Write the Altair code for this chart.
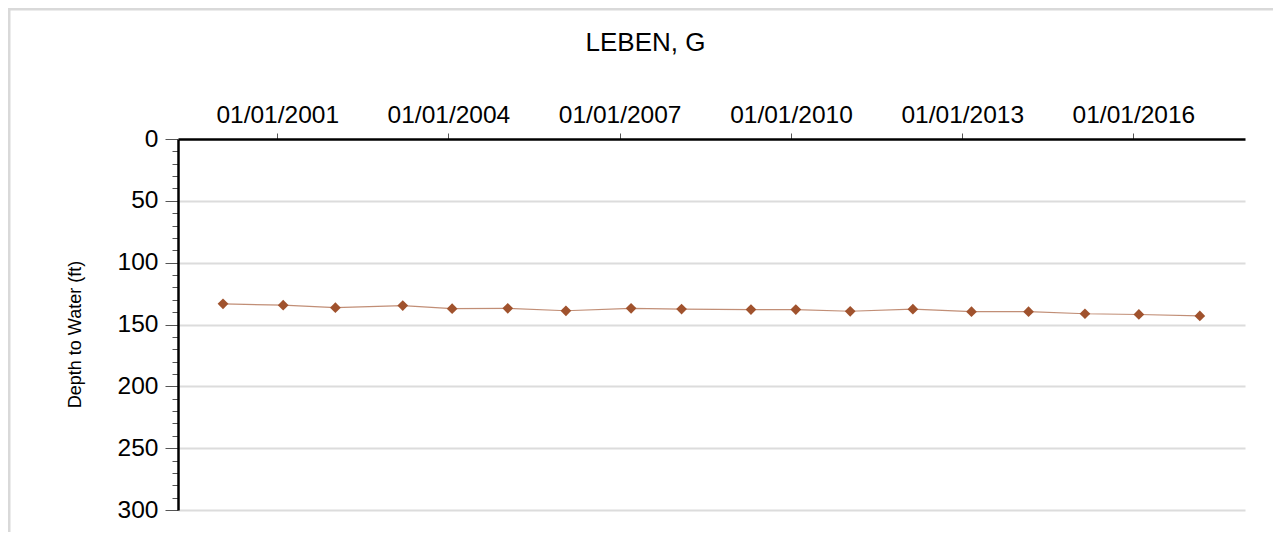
import altair as alt
import pandas as pd

# ---- data ----
dates = ["2000-01-20", "2001-02-08", "2002-01-08", "2003-03-15", "2004-01-25", "2005-01-15",
         "2006-01-22", "2007-03-15", "2008-02-01", "2009-04-20", "2010-02-01", "2011-01-15",
         "2012-02-20", "2013-03-01", "2014-03-01", "2015-02-25", "2016-02-05", "2017-03-01"]
depths = [133.3, 134.4, 136.4, 134.7, 137.2, 136.9, 138.9, 136.9, 137.5, 137.9, 137.9, 139.3,
          137.6, 139.6, 139.6, 141.3, 141.9, 143.1]
tick_years = [2001, 2004, 2007, 2010, 2013, 2016]
y_ticks = list(range(0, 301, 10))
title_text = "LEBEN, G"
y_title = "Depth to Water (ft)"

df = pd.DataFrame({"date": dates, "depth": depths})

W, H = 1067, 371
FONT = "Liberation Sans"
MAJOR = "datum.value % 50 === 0"

x_enc = alt.X(
    "date:T",
    scale=alt.Scale(domain=[alt.DateTime(year=1999, month=4, date=7),
                            alt.DateTime(year=2017, month=12, date=15)]),
    axis=alt.Axis(
        orient="top",
        values=[alt.DateTime(year=y, month=1, date=1) for y in tick_years],
        format="%m/%d/%Y", title=None, grid=False,
        tickSize=6, tickColor="#555555", tickWidth=1,
        labelFont=FONT, labelFontSize=24.5, labelColor="black", labelPadding=6,
        labelFlush=False, labelOverlap=False,
        domainColor="black", domainWidth=2.5,
    ),
)

y_enc = alt.Y(
    "depth:Q",
    scale=alt.Scale(domain=[0, 300], reverse=True, nice=False, zero=False),
    axis=alt.Axis(
        values=y_ticks, labelOverlap=False, labelBound=False, labelFlush=False,
        title=y_title, titleFont=FONT, titleFontSize=18, titleFontWeight="normal",
        titleColor="black", titleX=-103, titleY=195, titleBaseline="middle",
        labelExpr=MAJOR + " ? datum.label : ''",
        labelFont=FONT, labelFontSize=24.5, labelColor="black", labelPadding=7,
        tickSize={"condition": {"test": MAJOR, "value": 13}, "value": 6},
        tickColor="#555555", tickWidth=1,
        grid=True, gridColor="#dcdcdc", gridWidth=2.2,
        gridOpacity={"condition": {"test": MAJOR + " && datum.value > 0", "value": 1}, "value": 0},
        domainColor="black", domainWidth=2.5,
    ),
)

base = alt.Chart(df).encode(x=x_enc, y=y_enc)
line = base.mark_line(color="#a0522d", strokeWidth=1.2, opacity=0.65)
pts = base.mark_point(shape="diamond", filled=True, size=115, color="#a0522d", opacity=1)

frame = alt.Chart(pd.DataFrame({"a": [0]})).mark_rect(
    fillOpacity=0, stroke="#d9d9d9", strokeWidth=3
).encode(x=alt.value(-169), x2=alt.value(W + 200), y=alt.value(-130), y2=alt.value(H + 200))

chart = alt.layer(frame, line, pts).properties(
    width=W, height=H,
    title=alt.TitleParams(title_text, font=FONT, fontSize=26, fontWeight="normal",
                          color="black", anchor="middle", dx=-66, offset=-48),
    padding={"left": 170, "top": 131, "right": 28, "bottom": 22},
    autosize=alt.AutoSizeParams(type="none"),
    background="white",
).configure_view(stroke=None)

chart.save("out.html", embed_options={"renderer": "svg", "actions": False})
